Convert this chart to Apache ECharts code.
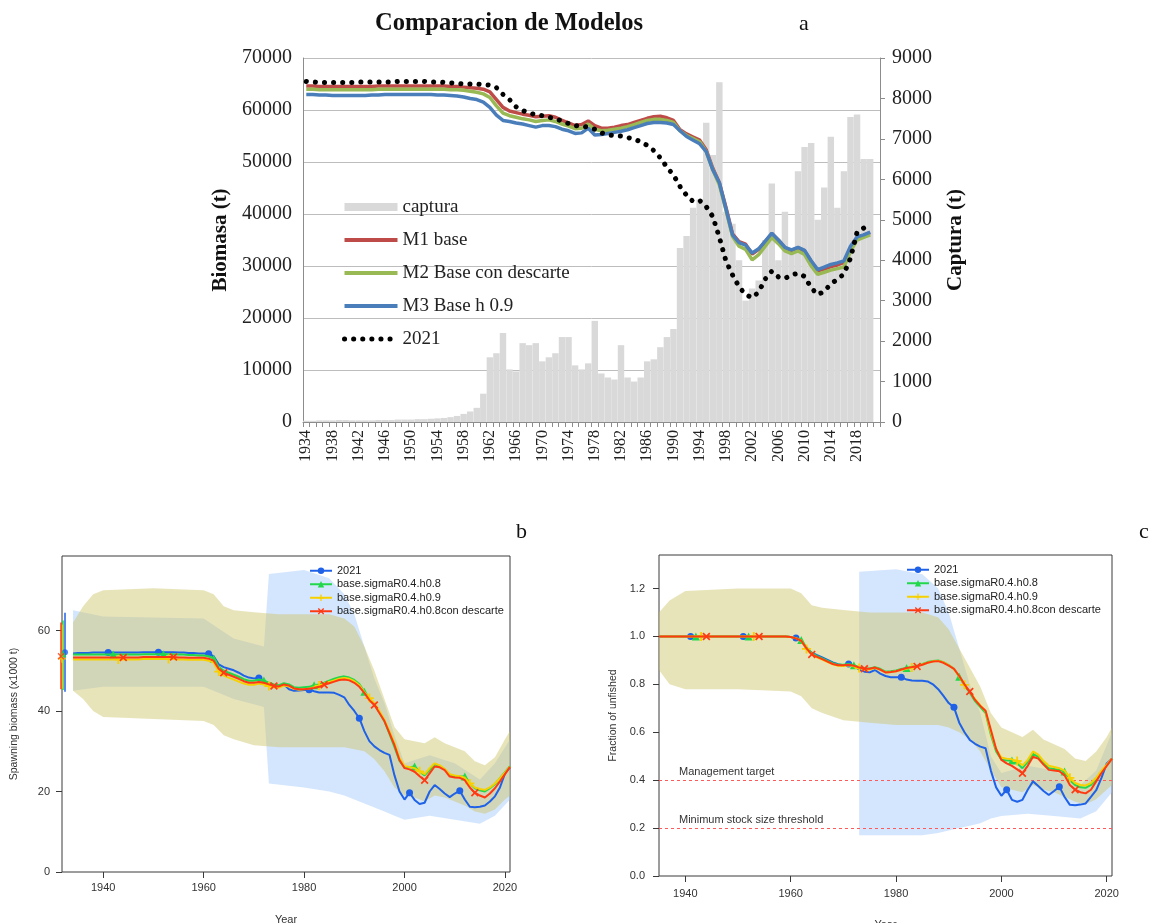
<!DOCTYPE html>
<html>
<head>
<meta charset="utf-8">
<script src="https://cdn.jsdelivr.net/npm/echarts@6/dist/echarts.min.js"></script>
<style>
  html, body { margin: 0; padding: 0; background: #ffffff; }
  #chart { width: 1150px; height: 923px; }
</style>
</head>
<body>
<div id="chart"></div>
<script>
// ---------- Panel a: biomass by model (left axis) and catch (right axis) ----------
const yearsA = Array.from({ length: 88 }, (_, i) => String(1934 + i)); // 1934..2021

const capturaA = [
  30, 30, 40, 40, 40, 50, 50, 40, 40, 40,
  40, 50, 50, 50, 60, 60, 60, 70, 70, 80,
  90, 100, 120, 150, 200, 260, 350, 700, 1600, 1700,
  2200, 1300, 1250, 1950, 1900, 1950, 1500, 1600, 1700, 2100,
  2100, 1400, 1300, 1450, 2500, 1200, 1100, 1050, 1900, 1100,
  1000, 1100, 1500, 1550, 1850, 2100, 2300, 4300, 4600, 5300,
  5500, 7400, 6600, 8400, 5200, 4900, 4000, 3000, 3300, 3500,
  4500, 5900, 4000, 5200, 4300, 6200, 6800, 6900, 5000, 5800,
  7050, 5300, 6200, 7540, 7600, 6500, 6500, null
];

const m1Base = [
  64600, 64600, 64500, 64500, 64500, 64500, 64500, 64500, 64500, 64500,
  64500, 64600, 64600, 64600, 64600, 64600, 64600, 64600, 64600, 64600,
  64600, 64600, 64500, 64500, 64400, 64300, 64200, 64000, 63500, 62000,
  60500, 59800, 59500, 59200, 59000, 58700, 58800, 58900, 58600, 58000,
  57500, 57000, 57200, 57900, 57000, 56500, 56500, 56700, 57000, 57200,
  57600, 58000, 58400, 58700, 58800, 58500, 58000, 56200, 55400, 54800,
  54200, 52300, 48800, 46000, 41300, 36200, 34700, 34200, 32300, 33200,
  34700, 36200, 35000, 33500, 33000, 33500, 32900, 30900, 29100, 29400,
  29900, 30200, 30700, 33500, 35500, 35900, 36400, null
];

const m2Descarte = [
  64000, 64000, 63900, 63900, 63900, 63900, 63900, 63900, 63900, 63900,
  63900, 64000, 64000, 64000, 64000, 64000, 64000, 64000, 64000, 64000,
  64000, 64000, 63900, 63900, 63800, 63600, 63400, 63100, 62400, 60800,
  59400, 58900, 58600, 58300, 58100, 57800, 58000, 58100, 57800, 57300,
  56900, 56400, 56500, 57300, 56300, 56000, 56100, 56300, 56500, 56800,
  57200, 57600, 58000, 58200, 58200, 58000, 57600, 56000, 55100, 54500,
  53900, 52000, 48500, 45600, 40800, 35700, 33800, 33200, 31200, 32200,
  33800, 35500, 34300, 32900, 32400, 32900, 32200, 30000, 28400, 28800,
  29200, 29500, 29800, 32800, 35000, 35500, 36000, null
];

const m3H09 = [
  63000, 63000, 62900, 62900, 62800, 62800, 62800, 62800, 62800, 62800,
  62900, 62900, 63000, 63000, 63000, 63000, 63000, 63000, 63000, 63000,
  62900, 62900, 62800, 62700, 62500, 62200, 62000, 61500, 60500, 59000,
  58000, 57800, 57500, 57300, 57000, 56700, 57000, 57000, 56800, 56300,
  56000, 55500, 55600, 56500, 55200, 55300, 55500, 55700, 55900, 56200,
  56600, 57000, 57400, 57600, 57600, 57500, 57200, 56000, 54900, 54200,
  53500, 52000, 48500, 46000, 41000, 36000, 34500, 34000, 32500, 33300,
  34800, 36300, 35000, 33600, 33100, 33600, 33000, 31000, 29300, 29800,
  30300, 30600, 31000, 33800, 35600, 36000, 36500, null
];

const eval2021 = [
  65500, 65400, 65300, 65300, 65300, 65300, 65300, 65300, 65400, 65400,
  65400, 65400, 65400, 65400, 65500, 65500, 65500, 65500, 65500, 65400,
  65400, 65300, 65200, 65100, 65000, 65000, 65000, 64900, 64800, 64300,
  63000, 62000, 60600, 59900, 59400, 59100, 58900, 58600, 58300, 57900,
  57400, 57000, 56900, 56700, 56300, 55600, 55200, 55100, 55000, 54700,
  54400, 53900, 53200, 52200, 50800, 49000, 47500, 45300, 43600, 42400,
  42600, 41400, 39500, 35500, 31000, 28300, 26000, 24500, 23900, 25000,
  27500, 29000, 27900, 27600, 28300, 28600, 28000, 25800, 24500, 25100,
  26600, 27400, 28500, 31500, 36500, 37300, null, null
];

// ---------- Panel b: spawning biomass (x1000 t), 1934..2021 ----------
const sbStart = 1934;
const sb2021 = [
  54.3, 54.4, 54.4, 54.4, 54.5, 54.5, 54.5, 54.5, 54.5, 54.5,
  54.5, 54.5, 54.5, 54.5, 54.6, 54.6, 54.6, 54.6, 54.6, 54.6,
  54.6, 54.5, 54.5, 54.4, 54.4, 54.3, 54.3, 54.2, 53.6, 51.6,
  50.9, 50.5, 50.1, 49.5, 48.8, 48.3, 48.1, 48.2, 47.5, 46.8,
  46.3, 46.1, 46.6, 45.4, 45.0, 45.1, 45.2, 45.3, 44.9, 44.6,
  44.6, 44.6, 44.5, 44.0, 43.4, 41.5, 40.0, 38.2, 35.0, 32.5,
  31.2, 30.3, 29.6, 29.1, 24.0, 20.0, 18.0, 19.7, 17.9, 16.9,
  17.2, 20.0, 21.6, 20.6, 19.5, 18.6, 19.5, 20.2, 18.0, 16.2,
  16.1, 16.2, 16.5, 17.5, 18.8, 21.0, 24.5, 26.0
];
const sbH08 = [
  54.0, 54.0, 54.0, 54.0, 54.0, 54.0, 54.0, 54.0, 54.0, 54.0,
  54.0, 54.0, 54.0, 54.0, 54.1, 54.1, 54.1, 54.1, 54.1, 54.1,
  54.1, 54.0, 54.0, 53.9, 53.9, 53.8, 53.8, 53.6, 53.0, 51.0,
  50.0, 49.5, 49.0, 48.5, 47.9, 47.5, 47.5, 47.8, 47.6, 47.0,
  46.6, 46.4, 46.9, 46.6, 45.9, 45.8, 45.9, 46.0, 46.4, 46.6,
  47.0, 47.5, 48.0, 48.4, 48.6, 48.3, 47.7, 46.7, 44.8, 43.0,
  41.7, 39.6, 37.4, 34.3, 31.0, 27.6, 26.0, 26.0, 26.2, 25.0,
  24.0, 25.3, 26.8, 26.3, 25.5, 24.2, 23.8, 23.7, 23.7, 22.0,
  20.8, 20.3, 20.0, 20.8, 21.8, 23.3, 24.8, 26.3
];
const sbH09 = [
  52.8, 52.8, 52.8, 52.8, 52.8, 52.8, 52.8, 52.8, 52.8, 52.8,
  52.8, 52.8, 52.8, 52.8, 52.9, 52.9, 52.9, 52.9, 52.9, 52.9,
  52.9, 52.8, 52.8, 52.7, 52.7, 52.7, 52.7, 52.5, 52.0, 49.8,
  48.8, 48.3, 47.8, 47.3, 46.8, 46.5, 46.5, 46.8, 46.6, 46.2,
  45.9, 45.8, 46.3, 46.1, 45.5, 45.3, 45.4, 45.6, 45.9, 46.3,
  46.8, 47.2, 47.6, 48.0, 48.2, 48.0, 47.4, 46.4, 44.7, 43.2,
  42.0, 40.0, 37.8, 35.0, 32.0, 28.3, 26.3, 26.1, 25.8, 25.0,
  24.3, 25.8, 27.0, 26.5, 25.6, 24.3, 24.0, 23.8, 23.4, 22.0,
  21.0, 20.6, 20.4, 21.0, 22.0, 23.3, 24.7, 26.2
];
const sbDesc = [
  53.3, 53.3, 53.3, 53.3, 53.3, 53.3, 53.3, 53.3, 53.3, 53.3,
  53.3, 53.3, 53.3, 53.3, 53.4, 53.4, 53.4, 53.4, 53.4, 53.4,
  53.4, 53.3, 53.3, 53.2, 53.2, 53.2, 53.2, 53.0, 52.5, 50.5,
  49.5, 49.0, 48.5, 48.0, 47.4, 47.0, 47.0, 47.2, 47.0, 46.6,
  46.2, 46.1, 46.6, 46.3, 45.6, 45.4, 45.4, 45.5, 45.7, 46.0,
  46.5, 46.9, 47.3, 47.7, 47.8, 47.6, 47.0, 46.0, 44.5, 42.7,
  41.5, 39.5, 37.5, 34.5, 31.5, 27.8, 25.8, 25.5, 24.9, 23.8,
  22.8, 24.5, 26.2, 26.0, 25.3, 23.7, 23.5, 23.4, 22.8, 21.0,
  19.7, 19.0, 18.5, 19.5, 20.8, 22.5, 24.3, 26.1
];
// unfished spawning biomass: [year, estimate, lower, upper]
const b0Points = [
  [1932, 54.6, 44.8, 64.4],
  [1932, 54.2, 45.2, 62.5],
  [1932, 53.0, 45.5, 61.5],
  [1932, 53.6, 45.4, 62.0]
];
// uncertainty intervals: [year, lower, upper]
const sbBandModels = [
  [1934, 45, 62], [1936, 43, 66], [1938, 40, 69], [1940, 38.5, 70], [1950, 38, 70.5],
  [1960, 37.5, 70], [1962, 36.5, 69], [1964, 34, 66], [1966, 33, 65], [1970, 31.5, 64.5],
  [1975, 31, 64], [1980, 31, 64], [1985, 31, 64], [1988, 31, 63], [1990, 30.5, 61],
  [1992, 30, 56], [1994, 28, 50], [1996, 25, 43], [1998, 21, 36], [2000, 19, 33],
  [2002, 18.5, 32.5], [2004, 17.5, 32], [2006, 19, 33.5], [2008, 18.5, 32], [2010, 17.5, 31],
  [2012, 16.5, 30], [2014, 15, 27.5], [2016, 14.5, 26.5], [2018, 15.5, 28.5], [2020, 18, 33], [2021, 19, 35]
];
const sbBand2021 = [
  [1934, 45, 65], [1940, 46, 63.5], [1960, 46, 63], [1966, 43, 58], [1972, 41, 56],
  [1973, 22, 74], [1980, 21, 75], [1985, 20, 73], [1988, 19, 69], [1990, 18, 64],
  [1992, 17, 56], [1994, 16, 48], [1996, 15, 42], [1998, 14, 34], [2000, 13, 27],
  [2005, 14, 29], [2010, 13, 27], [2015, 12, 23], [2018, 14, 27], [2021, 18, 33]
];

// ---------- Panel c: fraction of unfished, 1935..2021 ----------
const depStart = 1935;
const dep2021 = [
  1.0, 1.0, 1.0, 1.0, 1.0, 1.0, 1.0, 1.0, 1.0, 1.0,
  1.0, 1.0, 1.0, 1.0, 1.0, 1.0, 1.0, 1.0, 1.0, 1.0,
  1.0, 1.0, 1.0, 1.0, 1.0, 0.998, 0.993, 0.982, 0.95, 0.932,
  0.922, 0.912, 0.902, 0.892, 0.884, 0.88, 0.885, 0.876, 0.862, 0.853,
  0.85, 0.86, 0.845, 0.835, 0.83, 0.83, 0.83, 0.82, 0.816, 0.815,
  0.815, 0.812, 0.80, 0.78, 0.752, 0.722, 0.704, 0.64, 0.60, 0.568,
  0.552, 0.54, 0.533, 0.44, 0.37, 0.335, 0.36, 0.318, 0.31, 0.318,
  0.36, 0.395, 0.376, 0.355, 0.338, 0.355, 0.373, 0.33, 0.297, 0.295,
  0.298, 0.303, 0.33, 0.358, 0.41, 0.47, 0.49
];
const depH08 = [
  1.0, 1.0, 1.0, 1.0, 1.0, 1.0, 1.0, 1.0, 1.0, 1.0,
  1.0, 1.0, 1.0, 1.0, 1.0, 1.0, 1.0, 1.0, 1.0, 1.0,
  1.0, 1.0, 1.0, 1.0, 1.0, 0.998, 0.993, 0.985, 0.955, 0.93,
  0.918, 0.908, 0.898, 0.888, 0.882, 0.882, 0.885, 0.88, 0.872, 0.866,
  0.866, 0.872, 0.865, 0.853, 0.855, 0.858, 0.864, 0.868, 0.873, 0.878,
  0.885, 0.893, 0.898, 0.9, 0.893, 0.88, 0.865, 0.832, 0.795, 0.765,
  0.73, 0.705, 0.68, 0.59, 0.52, 0.485, 0.482, 0.482, 0.47, 0.45,
  0.475, 0.51, 0.497, 0.47, 0.45, 0.447, 0.443, 0.436, 0.40, 0.38,
  0.37, 0.368, 0.38, 0.405, 0.435, 0.462, 0.49
];
const depH09 = [
  1.0, 1.0, 1.0, 1.0, 1.0, 1.0, 1.0, 1.0, 1.0, 1.0,
  1.0, 1.0, 1.0, 1.0, 1.0, 1.0, 1.0, 1.0, 1.0, 1.0,
  1.0, 1.0, 1.0, 1.0, 1.0, 0.998, 0.993, 0.982, 0.948, 0.925,
  0.913, 0.903, 0.893, 0.884, 0.878, 0.877, 0.88, 0.875, 0.868, 0.862,
  0.862, 0.868, 0.861, 0.85, 0.851, 0.855, 0.86, 0.865, 0.87, 0.876,
  0.883, 0.89, 0.896, 0.898, 0.892, 0.88, 0.864, 0.833, 0.798, 0.77,
  0.738, 0.712, 0.688, 0.6, 0.53, 0.495, 0.49, 0.487, 0.48, 0.462,
  0.485, 0.52, 0.507, 0.48, 0.46, 0.455, 0.45, 0.44, 0.41, 0.388,
  0.38, 0.378, 0.388, 0.41, 0.44, 0.465, 0.49
];
const depDesc = [
  1.0, 1.0, 1.0, 1.0, 1.0, 1.0, 1.0, 1.0, 1.0, 1.0,
  1.0, 1.0, 1.0, 1.0, 1.0, 1.0, 1.0, 1.0, 1.0, 1.0,
  1.0, 1.0, 1.0, 1.0, 1.0, 0.998, 0.992, 0.982, 0.95, 0.925,
  0.915, 0.905, 0.895, 0.885, 0.88, 0.88, 0.882, 0.878, 0.87, 0.865,
  0.865, 0.87, 0.862, 0.85, 0.852, 0.855, 0.862, 0.868, 0.872, 0.875,
  0.882, 0.89, 0.895, 0.897, 0.89, 0.878, 0.865, 0.835, 0.80, 0.77,
  0.735, 0.71, 0.69, 0.61, 0.53, 0.485, 0.47, 0.46, 0.445, 0.429,
  0.46, 0.498, 0.49, 0.465, 0.443, 0.44, 0.437, 0.42, 0.38, 0.36,
  0.35, 0.345, 0.36, 0.395, 0.43, 0.46, 0.49
];
const depBandModels = [
  [1935, 0.86, 1.10], [1937, 0.80, 1.15], [1940, 0.78, 1.19], [1950, 0.78, 1.20], [1960, 0.77, 1.20],
  [1962, 0.75, 1.18], [1964, 0.70, 1.13], [1966, 0.68, 1.12], [1970, 0.65, 1.11], [1975, 0.64, 1.10],
  [1980, 0.63, 1.10], [1985, 0.63, 1.10], [1988, 0.63, 1.08], [1990, 0.62, 1.03], [1992, 0.60, 0.95],
  [1994, 0.57, 0.87], [1996, 0.52, 0.79], [1998, 0.44, 0.68], [2000, 0.37, 0.62], [2002, 0.36, 0.60],
  [2004, 0.35, 0.58], [2006, 0.38, 0.61], [2008, 0.36, 0.57], [2010, 0.35, 0.55], [2012, 0.33, 0.53],
  [2014, 0.31, 0.49], [2016, 0.30, 0.48], [2018, 0.32, 0.52], [2020, 0.36, 0.58], [2021, 0.38, 0.62]
];
const depBand2021 = [
  [1973, 0.17, 1.27], [1980, 0.17, 1.28], [1985, 0.17, 1.26], [1988, 0.18, 1.20], [1990, 0.19, 1.10],
  [1992, 0.20, 0.95], [1994, 0.21, 0.80], [1996, 0.22, 0.68], [1998, 0.24, 0.50], [2000, 0.25, 0.43],
  [2005, 0.26, 0.46], [2010, 0.25, 0.44], [2015, 0.24, 0.38], [2018, 0.27, 0.44], [2021, 0.35, 0.60]
];
const refPoints = [
  { value: 0.4, label: 'Management target' },
  { value: 0.2, label: 'Minimum stock size threshold' }
];

// symbols placed every ten years, staggered per model
const markYears = [
  [1941, 1951, 1961, 1971, 1981, 1991, 2001, 2011],
  [1942, 1952, 1962, 1972, 1982, 1992, 2002, 2012],
  [1943, 1953, 1963, 1973, 1983, 1993, 2003, 2013],
  [1944, 1954, 1964, 1974, 1984, 1994, 2004, 2014]
];
const yearTicks = [1940, 1960, 1980, 2000, 2020];
const sbTicks = [0, 20, 40, 60];
const depTicks = [0, 0.2, 0.4, 0.6, 0.8, 1.0, 1.2];

const modelNames = ['2021', 'base.sigmaR0.4.h0.8', 'base.sigmaR0.4.h0.9', 'base.sigmaR0.4.h0.8con descarte'];
const modelColors = ['#1f62e8', '#22d84a', '#f7d000', '#ff3a12'];
const PLUS = 'path://M4,0H6V4H10V6H6V10H4V6H0V4H4Z';
const CROSS = 'path://M1.5,0L5,3.5L8.5,0L10,1.5L6.5,5L10,8.5L8.5,10L5,6.5L1.5,10L0,8.5L3.5,5L0,1.5Z';
const modelSymbols = ['circle', 'triangle', PLUS, CROSS];
const modelSymbolSizes = [7, 8, 9, 8];

const SERIF = '"Liberation Serif", "Times New Roman", serif';
const SANS = '"Liberation Sans", Arial, sans-serif';
const plain = v => String(v);

function pointsFor(start, vals, marks) {
  return vals.map((v, i) => {
    const yr = start + i;
    const item = { value: [yr, v] };
    if (!marks.includes(yr)) item.symbol = 'none';
    return item;
  });
}

function modelLine(k, start, vals, xi, yi, extra) {
  return Object.assign({
    type: 'line', name: modelNames[k], xAxisIndex: xi, yAxisIndex: yi,
    data: pointsFor(start, vals, markYears[k]),
    symbol: modelSymbols[k], symbolSize: modelSymbolSizes[k], showSymbol: true, showAllSymbol: true,
    color: modelColors[k],
    lineStyle: { width: 2, color: modelColors[k] },
    itemStyle: { color: modelColors[k] },
    z: 5 + k, clip: true, silent: true
  }, extra || {});
}

function bandSeries(xi, yi, pts, fill) {
  return {
    type: 'custom', xAxisIndex: xi, yAxisIndex: yi, silent: true, clip: true, z: 1,
    data: pts,
    encode: { x: 0, y: [1, 2] },
    renderItem: function (params, api) {
      if (params.dataIndex !== 0) return null;
      const upper = pts.map(p => api.coord([p[0], p[2]]));
      const lower = pts.slice().reverse().map(p => api.coord([p[0], p[1]]));
      return { type: 'polygon', shape: { points: upper.concat(lower) }, style: { fill: fill } };
    }
  };
}

const chart = echarts.init(document.getElementById('chart'), null, { renderer: 'canvas' });

const series = [
  // panel a
  { type: 'bar', name: 'captura', xAxisIndex: 0, yAxisIndex: 1, data: capturaA,
    barCategoryGap: '2%', itemStyle: { color: '#d9d9d9' }, z: 1, silent: true },
  { type: 'line', name: 'M1 base', xAxisIndex: 0, yAxisIndex: 0, data: m1Base, symbol: 'none',
    color: '#be4b48', lineStyle: { width: 3.5, color: '#be4b48' }, z: 3, silent: true },
  { type: 'line', name: 'M2 Base con descarte', xAxisIndex: 0, yAxisIndex: 0, data: m2Descarte, symbol: 'none',
    color: '#98b954', lineStyle: { width: 3.5, color: '#98b954' }, z: 4, silent: true },
  { type: 'line', name: 'M3 Base h 0.9', xAxisIndex: 0, yAxisIndex: 0, data: m3H09, symbol: 'none',
    color: '#4a7ebb', lineStyle: { width: 3.5, color: '#4a7ebb' }, z: 5, silent: true },
  { type: 'line', name: '2021_a', xAxisIndex: 0, yAxisIndex: 0, data: eval2021, symbol: 'none',
    color: '#000000', lineStyle: { width: 5, color: '#000000', type: [0.1, 9], cap: 'round' }, z: 6, silent: true },

  // panel b bands
  bandSeries(1, 2, sbBand2021, 'rgba(160,200,250,0.45)'),
  bandSeries(1, 2, sbBandModels, 'rgba(205,196,105,0.46)'),
  // panel c bands
  bandSeries(2, 3, depBand2021, 'rgba(160,200,250,0.45)'),
  bandSeries(2, 3, depBandModels, 'rgba(205,196,105,0.46)'),

  // panel b lines
  modelLine(0, sbStart, sb2021, 1, 2),
  modelLine(1, sbStart, sbH08, 1, 2),
  modelLine(2, sbStart, sbH09, 1, 2),
  modelLine(3, sbStart, sbDesc, 1, 2),
  // panel c lines
  modelLine(0, depStart, dep2021, 2, 3, {
    markLine: {
      silent: true, symbol: ['none', 'none'],
      lineStyle: { color: '#ff5a5a', type: [3, 3], width: 1.2 },
      label: { show: true, position: 'insideStartTop', formatter: '{b}', color: '#333',
               fontFamily: SANS, fontSize: 11, distance: [20, 3] },
      data: refPoints.map(r => ({ yAxis: r.value, name: r.label }))
    }
  }),
  modelLine(1, depStart, depH08, 2, 3),
  modelLine(2, depStart, depH09, 2, 3),
  modelLine(3, depStart, depDesc, 2, 3),

  // unfished biomass with interval, panel b
  {
    type: 'custom', name: 'B0', xAxisIndex: 1, yAxisIndex: 2, silent: true, z: 9,
    data: b0Points, encode: { x: 0, y: [1, 2, 3] },
    renderItem: function (params, api) {
      const k = params.dataIndex;
      const offs = [2, 0, -1, -2];
      const top = api.coord([api.value(0), api.value(3)]);
      const bot = api.coord([api.value(0), api.value(2)]);
      const x = top[0] + offs[k];
      return { type: 'line', shape: { x1: x, y1: top[1], x2: x, y2: bot[1] },
               style: { stroke: modelColors[k], lineWidth: 1.5 } };
    }
  }
];
b0Points.forEach((p, k) => {
  series.push({
    type: 'scatter', name: 'B0 ' + k, xAxisIndex: 1, yAxisIndex: 2, silent: true, z: 10,
    data: [[p[0], p[1]]], symbol: modelSymbols[k], symbolSize: modelSymbolSizes[k] - 1,
    symbolOffset: [[2, 0, -1, -2][k], 0], itemStyle: { color: modelColors[k] }
  });
});

const bottomLegend = (left, top) => ({
  orient: 'vertical', left: left, top: top, selectedMode: false, padding: 0,
  itemWidth: 22, itemHeight: 8, itemGap: 0,
  textStyle: { fontFamily: SANS, fontSize: 11, color: '#222', lineHeight: 13.5 },
  data: modelNames
});

const option = {
  animation: false,
  backgroundColor: '#ffffff',
  title: [
    { text: 'Comparacion de Modelos', left: 370, top: 6,
      textStyle: { fontFamily: SERIF, fontWeight: 'bold', fontSize: 24.5, color: '#111' } },
    { text: 'a', left: 794, top: 8, textStyle: { fontFamily: SERIF, fontWeight: 'normal', fontSize: 22, color: '#111' } },
    { text: 'b', left: 511, top: 516, textStyle: { fontFamily: SERIF, fontWeight: 'normal', fontSize: 22, color: '#111' } },
    { text: 'c', left: 1134, top: 516, textStyle: { fontFamily: SERIF, fontWeight: 'normal', fontSize: 22, color: '#111' } }
  ],
  legend: [
    {
      orient: 'vertical', left: 342, top: 196, selectedMode: false, padding: 0,
      itemWidth: 53, itemHeight: 8, itemGap: 11,
      itemStyle: { opacity: 0 },
      textStyle: { fontFamily: SERIF, fontSize: 19, color: '#222', lineHeight: 22 },
      formatter: n => n.replace('_a', ''),
      data: [
        { name: 'captura', icon: 'rect', itemStyle: { opacity: 1, color: '#d9d9d9' } },
        { name: 'M1 base', lineStyle: { width: 4 } },
        { name: 'M2 Base con descarte', lineStyle: { width: 4 } },
        { name: 'M3 Base h 0.9', lineStyle: { width: 4 } },
        { name: '2021_a', lineStyle: { width: 5, type: [0.1, 9], cap: 'round' } }
      ]
    },
    bottomLegend(309, 564),
    bottomLegend(906, 563)
  ],
  grid: [
    { left: 303, top: 58, width: 577, height: 364, outerBoundsMode: 'none' },
    { left: 62, top: 556, width: 448, height: 316, show: true, borderColor: '#3a3a3a', borderWidth: 1, outerBoundsMode: 'none' },
    { left: 659, top: 555, width: 453, height: 321, show: true, borderColor: '#3a3a3a', borderWidth: 1, outerBoundsMode: 'none' }
  ],
  xAxis: [
    {
      type: 'category', gridIndex: 0, data: yearsA, boundaryGap: true,
      axisLine: { show: true, lineStyle: { color: '#8c8c8c', width: 1 } },
      axisTick: { show: true, interval: 0, length: 5, lineStyle: { color: '#8c8c8c' } },
      axisLabel: { interval: 3, rotate: 90, fontFamily: SERIF, fontSize: 16, color: '#222', margin: 8 },
      splitLine: { show: false }
    },
    {
      type: 'value', gridIndex: 1, min: 1931.8, max: 2021,
      axisLine: { show: false },
      axisTick: { show: true, length: 6, customValues: yearTicks, lineStyle: { color: '#3a3a3a' } },
      axisLabel: { customValues: yearTicks, formatter: plain, fontFamily: SANS, fontSize: 11, color: '#333', margin: 10 },
      splitLine: { show: false },
      name: 'Year', nameLocation: 'middle', nameGap: 42,
      nameTextStyle: { fontFamily: SANS, fontSize: 11, color: '#333' }
    },
    {
      type: 'value', gridIndex: 2, min: 1935, max: 2021,
      axisLine: { show: false },
      axisTick: { show: true, length: 6, customValues: yearTicks, lineStyle: { color: '#3a3a3a' } },
      axisLabel: { customValues: yearTicks, formatter: plain, fontFamily: SANS, fontSize: 11, color: '#333', margin: 12 },
      splitLine: { show: false },
      name: 'Year', nameLocation: 'middle', nameGap: 43,
      nameTextStyle: { fontFamily: SANS, fontSize: 11, color: '#333' }
    }
  ],
  yAxis: [
    {
      type: 'value', gridIndex: 0, position: 'left', min: 0, max: 70000, interval: 10000,
      axisLine: { show: true, lineStyle: { color: '#8c8c8c' } },
      axisTick: { show: false },
      axisLabel: { formatter: plain, fontFamily: SERIF, fontSize: 20, color: '#222', margin: 11 },
      splitLine: { show: true, lineStyle: { color: '#bdbdbd', width: 1 } },
      name: 'Biomasa (t)', nameLocation: 'middle', nameGap: 64, nameRotate: 90,
      nameTextStyle: { fontFamily: SERIF, fontWeight: 'bold', fontSize: 21, color: '#111' }
    },
    {
      type: 'value', gridIndex: 0, position: 'right', min: 0, max: 9000, interval: 1000,
      axisLine: { show: true, lineStyle: { color: '#8c8c8c' } },
      axisTick: { show: true, length: 5, lineStyle: { color: '#8c8c8c' } },
      axisLabel: { formatter: plain, fontFamily: SERIF, fontSize: 20, color: '#222', margin: 12 },
      splitLine: { show: false },
      name: 'Captura (t)', nameLocation: 'middle', nameGap: 65, nameRotate: 90,
      nameTextStyle: { fontFamily: SERIF, fontWeight: 'bold', fontSize: 21, color: '#111' }
    },
    {
      type: 'value', gridIndex: 1, min: 0, max: 78.5,
      axisLine: { show: false },
      axisTick: { show: true, length: 6, customValues: sbTicks, lineStyle: { color: '#3a3a3a' } },
      axisLabel: { customValues: sbTicks, formatter: plain, fontFamily: SANS, fontSize: 11, color: '#333', margin: 12 },
      splitLine: { show: false },
      name: 'Spawning biomass (x1000 t)', nameLocation: 'middle', nameGap: 42, nameRotate: 90,
      nameTextStyle: { fontFamily: SANS, fontSize: 10.5, color: '#333' }
    },
    {
      type: 'value', gridIndex: 2, min: 0, max: 1.34,
      axisLine: { show: false },
      axisTick: { show: true, length: 6, customValues: depTicks, lineStyle: { color: '#3a3a3a' } },
      axisLabel: { customValues: depTicks, formatter: v => v.toFixed(1),
                   fontFamily: SANS, fontSize: 11, color: '#333', margin: 14 },
      splitLine: { show: false },
      name: 'Fraction of unfished', nameLocation: 'middle', nameGap: 40, nameRotate: 90,
      nameTextStyle: { fontFamily: SANS, fontSize: 10.5, color: '#333' }
    }
  ],
  series: series
};

chart.setOption(option);
</script>
</body>
</html>
